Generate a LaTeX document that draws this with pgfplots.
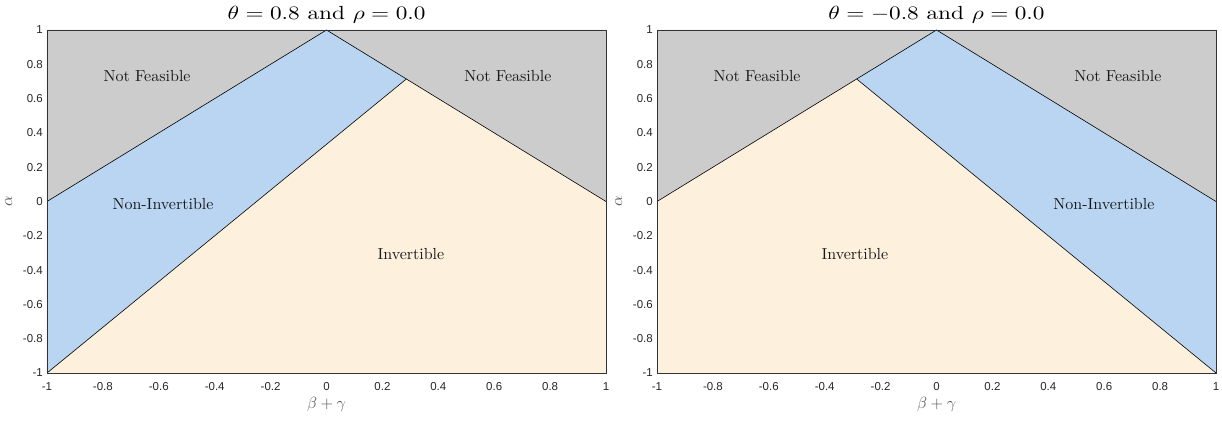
\documentclass[border=0pt]{standalone}
\usepackage{fontspec}
\usepackage{graphicx}
\newfontfamily\arial{Liberation Sans}
\usepackage{pgfplots}
\pgfplotsset{compat=1.18}
\definecolor{nfgray}{RGB}{204,204,204}
\definecolor{niblue}{RGB}{185,213,242}
\definecolor{invbeige}{RGB}{253,240,220}
\newsavebox\mybox
\sbox\mybox{$\theta=0.8$ and $\rho=0.0$}
\pgfmathsetmacro\tscale{198/\the\wd\mybox}
\sbox\mybox{Not Feasible}
\pgfmathsetmacro\lscale{87/\the\wd\mybox}
\sbox\mybox{$\beta+\gamma$}
\pgfmathsetmacro\ascale{39/\the\wd\mybox}
\newcommand\T[1]{\scalebox{\tscale}[1.9]{#1}}
\newcommand\Lb[1]{\scalebox{\lscale}{#1}}
\newcommand\A[1]{\scalebox{\ascale}{#1}}
\tikzset{lab/.style={text=black!90}}
\pgfplotsset{
  every axis title shift=0pt,
  regstyle/.style={
    scale only axis, width=559pt, height=343pt,
    xmin=-1, xmax=1, ymin=-1, ymax=1,
    xtick={-1,-0.8,...,1.01}, ytick={-1,-0.8,...,1.01},
    major tick length=0pt,
    /pgf/number format/assume math mode=true,
    tick label style={font=\arial\fontsize{11.5}{13}\selectfont, text=black!85},
    xticklabel style={yshift=-6.2pt},
    yticklabel style={xshift=-0.7pt},
    axis line style={black!80, line width=0.8pt},
    axis on top,
    xlabel={\A{$\beta+\gamma$}}, ylabel={\A{$\alpha$}},
    label style={text=black!65},
    xlabel style={at={(0.5,0)}, anchor=base, yshift=-36pt},
    ylabel style={at={(0,0.5)}, anchor=base, yshift=35pt},
    title style={at={(0.5,1)}, anchor=base, inner sep=0pt, yshift=10.5pt},
    clip=false,
  },
}
\begin{document}
\begin{tikzpicture}
\begin{axis}[regstyle, at={(47pt,49pt)}, anchor=south west,
  title={\T{$\theta=0.8$ and $\rho=0.0$}}]
\addplot[fill=nfgray, draw=none] coordinates {(-1,0) (0,1) (1,0) (1,1) (-1,1)} -- cycle;
\addplot[fill=niblue, draw=none] coordinates {(-1,0) (0,1) (0.2857,0.7143) (-1,-1)} -- cycle;
\addplot[fill=invbeige, draw=none] coordinates {(-1,-1) (0.2857,0.7143) (1,0) (1,-1)} -- cycle;
\addplot[black, line width=0.6pt] coordinates {(-1,0) (0,1) (1,0)};
\addplot[black, line width=0.6pt] coordinates {(-1,-1) (0.2857,0.7143)};
\node[lab] at (axis cs:-0.642,0.732) {\Lb{Not Feasible}};
\node[lab] at (axis cs:0.649,0.732) {\Lb{Not Feasible}};
\node[lab] at (axis cs:-0.585,-0.015) {\Lb{Non-Invertible}};
\node[lab] at (axis cs:0.302,-0.306) {\Lb{Invertible}};
\end{axis}
\begin{axis}[regstyle, at={(657pt,49pt)}, anchor=south west,
  title={\T{$\theta=-0.8$ and $\rho=0.0$}}]
\addplot[fill=nfgray, draw=none] coordinates {(-1,0) (0,1) (1,0) (1,1) (-1,1)} -- cycle;
\addplot[fill=niblue, draw=none] coordinates {(0,1) (1,0) (1,-1) (-0.2857,0.7143)} -- cycle;
\addplot[fill=invbeige, draw=none] coordinates {(-1,0) (-0.2857,0.7143) (1,-1) (-1,-1)} -- cycle;
\addplot[black, line width=0.6pt] coordinates {(-1,0) (0,1) (1,0)};
\addplot[black, line width=0.6pt] coordinates {(-0.2857,0.7143) (1,-1)};
\node[lab] at (axis cs:-0.642,0.732) {\Lb{Not Feasible}};
\node[lab] at (axis cs:0.649,0.732) {\Lb{Not Feasible}};
\node[lab] at (axis cs:0.599,-0.015) {\Lb{Non-Invertible}};
\node[lab] at (axis cs:-0.292,-0.306) {\Lb{Invertible}};
\end{axis}
\pgfresetboundingbox
\useasboundingbox (0,0) rectangle (1222pt,422pt);
\end{tikzpicture}
\end{document}
